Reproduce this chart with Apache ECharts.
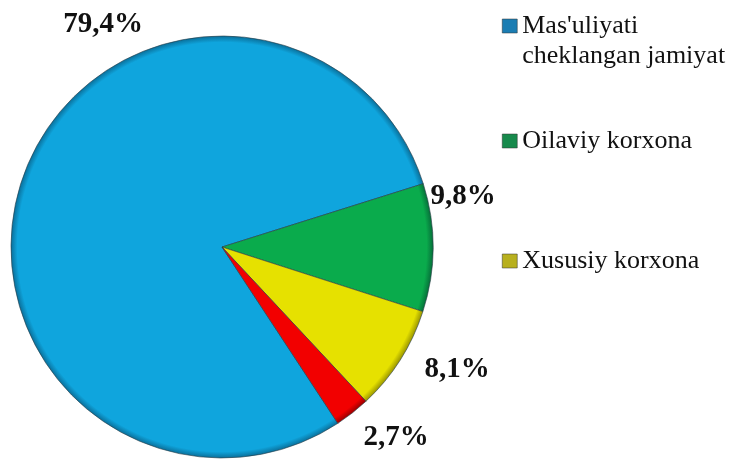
<!DOCTYPE html>
<html>
<head>
<meta charset="utf-8">
<script src="https://cdn.jsdelivr.net/npm/echarts@6/dist/echarts.min.js"></script>
<style>html,body{margin:0;padding:0;background:#fff}#c{width:734px;height:459px}</style>
</head>
<body>
<div id="c"></div>
<script>
const categories = ["Mas'uliyati cheklangan jamiyat", "Oilaviy korxona", "Xususiy korxona", "Boshqa"];
const values = [79.4, 9.8, 8.1, 2.7];
const legendLabels = ["\nMas'uliyati\ncheklangan jamiyat", "Oilaviy korxona", "Xususiy korxona"];

const FONT = "'Liberation Serif', 'Times New Roman', serif";
const CX = 222, CY = 247, R = 211;
const baseColors = ['#0fa5dd', '#0aab4c', '#e6e100', '#f20000'];
const rimColors = ['#0a6f9a', '#06703a', '#9a9600', '#9a0000'];
const legendIconColors = ['#1b7db3', '#178a4c', '#b8b01e'];
const labelPos = [[103, 25], [463, 197], [457, 370], [396, 438]];

function grad(i) {
  return new echarts.graphic.RadialGradient(CX, CY, R, [
    {offset: 0, color: baseColors[i]},
    {offset: 0.9, color: baseColors[i]},
    {offset: 0.97, color: baseColors[i]},
    {offset: 1, color: rimColors[i]}
  ], true);
}

const chart = echarts.init(document.getElementById('c'));
const legendTops = [-19, 126, 246];
const legends = legendLabels.map((lab, i) => ({
  orient: 'vertical',
  left: 502,
  top: legendTops[i],
  padding: 0,
  itemWidth: 15,
  itemHeight: 14,
  itemGap: 0,
  icon: 'rect',
  selectedMode: false,
  data: [{
    name: categories[i],
    itemStyle: {color: legendIconColors[i], borderColor: '#333', borderWidth: 0.5}
  }],
  formatter: () => lab,
  textStyle: {fontFamily: FONT, fontSize: 26, color: '#111', lineHeight: 30}
}));

chart.setOption({
  animation: false,
  backgroundColor: '#fff',
  legend: legends,
  series: [{
    type: 'pie',
    center: [CX, CY],
    radius: R,
    startAngle: 303.3,
    clockwise: true,
    emphasis: {disabled: true},
    itemStyle: {borderColor: 'rgba(40,60,70,0.6)', borderWidth: 1},
    labelLine: {show: false},
    label: {
      show: true,
      position: 'inside',
      fontFamily: FONT,
      fontSize: 29,
      fontWeight: 'bold',
      color: '#111',
      formatter: p => p.value.toFixed(1).replace('.', ',') + '%'
    },
    labelLayout: p => ({x: labelPos[p.dataIndex][0], y: labelPos[p.dataIndex][1], align: 'center', verticalAlign: 'middle'}),
    data: categories.map((c, i) => ({name: c, value: values[i], itemStyle: {color: grad(i)}}))
  }]
});
</script>
</body>
</html>
